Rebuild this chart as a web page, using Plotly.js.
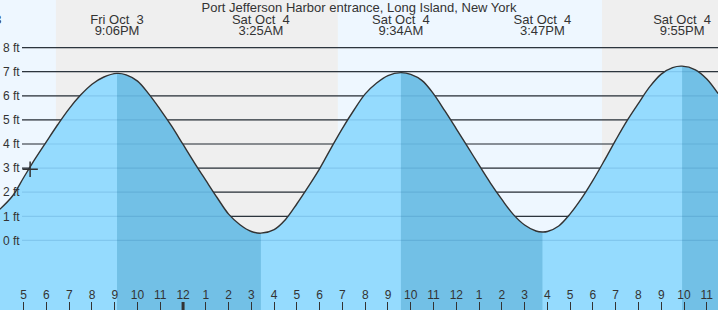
<!DOCTYPE html>
<html>
<head>
<meta charset="utf-8">
<script src="https://cdn.plot.ly/plotly-3.0.1.min.js"></script>
<style>html,body{margin:0;padding:0;background:#fff;}#chart{width:718px;height:310px;}</style>
</head>
<body>
<div id="chart"></div>
<script>
// ---- data ----
const tideTimes = [
  '2025-10-03 15:57','2025-10-03 16:30','2025-10-03 17:00','2025-10-03 17:30','2025-10-03 18:00',
  '2025-10-03 18:30','2025-10-03 19:00','2025-10-03 19:30','2025-10-03 20:00','2025-10-03 20:30',
  '2025-10-03 21:06','2025-10-03 21:30','2025-10-03 22:00','2025-10-03 22:30','2025-10-03 23:00',
  '2025-10-03 23:30','2025-10-04 00:00','2025-10-04 00:30','2025-10-04 01:00','2025-10-04 01:30',
  '2025-10-04 02:00','2025-10-04 02:30','2025-10-04 03:00','2025-10-04 03:25','2025-10-04 04:00',
  '2025-10-04 04:30','2025-10-04 05:00','2025-10-04 05:30','2025-10-04 06:00','2025-10-04 06:30',
  '2025-10-04 07:00','2025-10-04 07:30','2025-10-04 08:00','2025-10-04 08:30','2025-10-04 09:00',
  '2025-10-04 09:34','2025-10-04 10:00','2025-10-04 10:30','2025-10-04 11:00','2025-10-04 11:30',
  '2025-10-04 12:00','2025-10-04 12:30','2025-10-04 13:00','2025-10-04 13:30','2025-10-04 14:00',
  '2025-10-04 14:30','2025-10-04 15:00','2025-10-04 15:30','2025-10-04 15:47','2025-10-04 16:00',
  '2025-10-04 16:30','2025-10-04 17:00','2025-10-04 17:30','2025-10-04 18:00','2025-10-04 18:30',
  '2025-10-04 19:00','2025-10-04 19:30','2025-10-04 20:00','2025-10-04 20:30','2025-10-04 21:00',
  '2025-10-04 21:30','2025-10-04 21:55','2025-10-04 22:30','2025-10-04 23:00','2025-10-04 23:30'
];
const tideFeet = [
  1.29, 1.83, 2.61, 3.38, 4.10,
  4.81, 5.47, 6.03, 6.48, 6.77,
  6.93, 6.87, 6.61, 6.07, 5.43,
  4.74, 3.98, 3.22, 2.49, 1.77,
  1.09, 0.65, 0.37, 0.30, 0.45,
  0.87, 1.52, 2.23, 2.98, 3.83,
  4.65, 5.40, 6.08, 6.53, 6.84,
  6.96, 6.89, 6.63, 6.08, 5.37,
  4.63, 3.88, 3.12, 2.38, 1.70,
  1.08, 0.64, 0.39, 0.35, 0.37,
  0.60, 1.10, 1.74, 2.49, 3.31,
  4.16, 4.97, 5.69, 6.38, 6.90,
  7.17, 7.23, 7.08, 6.70, 6.09
];
const extremeTimes = ['2025-10-03 14:51','2025-10-03 21:06','2025-10-04 03:25','2025-10-04 09:34','2025-10-04 15:47','2025-10-04 21:55'];
const extremeDayLabels = ['Fri Oct \u00a03','Fri Oct \u00a03','Sat Oct \u00a04','Sat Oct \u00a04','Sat Oct \u00a04','Sat Oct \u00a04'];
const extremeTimeLabels = ['2:51PM','9:06PM','3:25AM','9:34AM','3:47PM','9:55PM'];
const extremeKinds = ['low','high','low','high','low','high'];
const nowTime = ['2025-10-03 17:17'];
const nowFeet = [2.95];
const sunTimes = ['2025-10-03 15:57','2025-10-03 18:25','2025-10-04 06:48','2025-10-04 18:24','2025-10-04 23:30'];
const sunPhase = ['day','night','day','night'];
const feetTicks = [0,1,2,3,4,5,6,7,8];
const feetLabels = ['0 ft','1 ft','2 ft','3 ft','4 ft','5 ft','6 ft','7 ft','8 ft'];
const dayBoundary = ['2025-10-04 00:00'];
const titleText = 'Port Jefferson Harbor entrance, Long Island, New York';

// ---- styles ----
const ink = '#333333';
const font = 'Liberation Sans, Arial, sans-serif';
const lightWater = '#95dbfe';
const darkWater = '#72c0e6';
const dayBg = '#eef7ff';
const nightBg = '#efefef';
const xStart = '2025-10-03 15:57:36';
const xEnd = '2025-10-04 23:29:36';
const yRange = [-2.888, 9.975];
const floor = -4;
const smooth = 1;

const traces = [];
traces.push({x:[tideTimes[0], tideTimes[tideTimes.length-1]], y:[floor,floor], mode:'lines', line:{width:0}, hoverinfo:'skip', showlegend:false});
traces.push({x:tideTimes, y:tideFeet, mode:'lines', line:{width:0, shape:'spline', smoothing:smooth}, fill:'tonexty', fillcolor:lightWater, hoverinfo:'skip', showlegend:false});

const ms = s => new Date(s.replace(' ','T')).getTime();
for (let k = 0; k < extremeTimes.length; k++) {
  if (extremeKinds[k] !== 'high') continue;
  const t0 = ms(extremeTimes[k]);
  const t1 = k+1 < extremeTimes.length ? ms(extremeTimes[k+1]) : Infinity;
  const sx = [], sy = [];
  tideTimes.forEach((t,i) => { const v = ms(t); if (v >= t0 && v <= t1) { sx.push(t); sy.push(tideFeet[i]); } });
  if (sx.length < 2) continue;
  traces.push({x:[sx[0], sx[sx.length-1]], y:[floor,floor], mode:'lines', line:{width:0}, hoverinfo:'skip', showlegend:false});
  traces.push({x:sx, y:sy, mode:'lines', line:{width:0, shape:'spline', smoothing:smooth}, fill:'tonexty', fillcolor:darkWater, hoverinfo:'skip', showlegend:false});
}

traces.push({x:tideTimes, y:tideFeet, mode:'lines', line:{color:ink, width:1.4, shape:'spline', smoothing:smooth}, hoverinfo:'skip', showlegend:false});
traces.push({x:nowTime, y:nowFeet, mode:'markers', marker:{symbol:'cross-thin', size:11, line:{color:ink, width:1.5}}, hoverinfo:'skip', showlegend:false});

traces.push({x:extremeTimes, y:extremeTimes.map(()=>9.12), mode:'text', text:extremeDayLabels, textposition:'middle center', textfont:{family:font, size:13, color:ink}, cliponaxis:true, hoverinfo:'skip', showlegend:false});
traces.push({x:extremeTimes, y:extremeTimes.map(()=>8.64), mode:'text', text:extremeTimeLabels, textposition:'middle center', textfont:{family:font, size:13, color:ink}, cliponaxis:true, hoverinfo:'skip', showlegend:false});

const shapes = [];
for (let i = 0; i < sunPhase.length; i++) {
  shapes.push({type:'rect', xref:'x', yref:'paper', x0:sunTimes[i], x1:sunTimes[i+1], y0:0, y1:1, fillcolor: sunPhase[i]==='day'?dayBg:nightBg, line:{width:0}, layer:'below'});
}
feetTicks.forEach(f => {
  shapes.push({type:'line', xref:'paper', yref:'y', x0:22/718, x1:1, y0:f, y1:f, line:{color:ink, width:1.2}, layer:'between'});
  shapes.push({type:'line', xref:'paper', yref:'y', x0:22/718, x1:1, y0:f, y1:f, line:{color:'rgba(0,70,130,0.13)', width:1.2}, layer:'above'});
});
dayBoundary.forEach(d => {
  shapes.push({type:'line', xref:'x', yref:'paper', x0:d, x1:d, y0:0, y1:8/310, line:{color:ink, width:3}, layer:'above'});
});

const layout = {
  width:718, height:310,
  margin:{l:0, r:0, t:0, b:0, pad:0},
  paper_bgcolor:'#ffffff', plot_bgcolor:dayBg,
  font:{family:font, size:12, color:ink},
  title:{text:titleText, font:{family:font, size:13, color:ink}, x:0.5, xanchor:'center', yref:'container', y:1-7/310, yanchor:'middle'},
  showlegend:false,
  xaxis:{type:'date', range:[xStart, xEnd], showgrid:false, zeroline:false, showline:false,
    tick0:'2025-10-03 16:00', dtick:3600000, tickformat:'%-I', ticks:'inside', ticklen:8, tickwidth:1, tickcolor:ink,
    ticklabelposition:'inside', tickfont:{family:font, size:12, color:ink}, fixedrange:true},
  yaxis:{range:yRange, showgrid:false, zeroline:false, showline:false, tickmode:'array', tickvals:feetTicks, ticktext:feetLabels,
    ticks:'', ticklabelposition:'inside', tickfont:{family:font, size:12, color:ink}, fixedrange:true},
  shapes:shapes
};
Plotly.newPlot('chart', traces, layout, {displayModeBar:false, staticPlot:true});
</script>
</body>
</html>
